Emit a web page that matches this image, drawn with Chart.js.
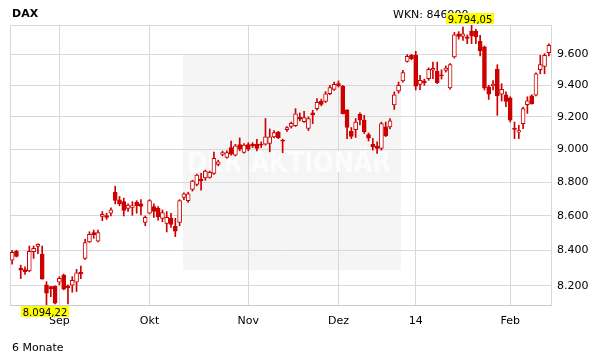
<!DOCTYPE html>
<html lang="de">
<head>
<meta charset="UTF-8">
<title>DAX 6 Monate</title>
<script src="https://cdn.jsdelivr.net/npm/chart.js"></script>
<style>
  html, body { margin: 0; padding: 0; background: #fff; }
</style>
</head>
<body>
<canvas id="daxChart" width="611" height="364"></canvas>
<script>
// trading days (Xetra), 16.08.2013 - 14.02.2014
const days = [
  '2013-08-16','2013-08-19','2013-08-20','2013-08-21','2013-08-22','2013-08-23','2013-08-26','2013-08-27','2013-08-28','2013-08-29','2013-08-30',
  '2013-09-02','2013-09-03','2013-09-04','2013-09-05','2013-09-06','2013-09-09','2013-09-10','2013-09-11','2013-09-12','2013-09-13',
  '2013-09-16','2013-09-17','2013-09-18','2013-09-19','2013-09-20','2013-09-23','2013-09-24','2013-09-25','2013-09-26','2013-09-27','2013-09-30',
  '2013-10-01','2013-10-02','2013-10-03','2013-10-04','2013-10-07','2013-10-08','2013-10-09','2013-10-10','2013-10-11','2013-10-14','2013-10-15',
  '2013-10-16','2013-10-17','2013-10-18','2013-10-21','2013-10-22','2013-10-23','2013-10-24','2013-10-25','2013-10-28','2013-10-29','2013-10-30','2013-10-31',
  '2013-11-01','2013-11-04','2013-11-05','2013-11-06','2013-11-07','2013-11-08','2013-11-11','2013-11-12','2013-11-13','2013-11-14','2013-11-15',
  '2013-11-18','2013-11-19','2013-11-20','2013-11-21','2013-11-22','2013-11-25','2013-11-26','2013-11-27','2013-11-28','2013-11-29',
  '2013-12-02','2013-12-03','2013-12-04','2013-12-05','2013-12-06','2013-12-09','2013-12-10','2013-12-11','2013-12-12','2013-12-13',
  '2013-12-16','2013-12-17','2013-12-18','2013-12-19','2013-12-20','2013-12-23','2013-12-27','2013-12-30',
  '2014-01-02','2014-01-03','2014-01-06','2014-01-07','2014-01-08','2014-01-09','2014-01-10','2014-01-13','2014-01-14','2014-01-15','2014-01-16',
  '2014-01-17','2014-01-20','2014-01-21','2014-01-22','2014-01-23','2014-01-24','2014-01-27','2014-01-28','2014-01-29','2014-01-30','2014-01-31',
  '2014-02-03','2014-02-04','2014-02-05','2014-02-06','2014-02-07','2014-02-10','2014-02-11','2014-02-12','2014-02-13','2014-02-14'
];

const openV = [
  8345,8395,8300,8292,8284,8393,8424,8380,8206,8196,8198,
  8221,8261,8200,8204,8221,8276,8355,8450,8504,8454,
  8598,8602,8616,8739,8695,8684,8644,8650,8680,8672,8562,
  8616,8655,8646,8586,8556,8586,8540,8562,8710,8690,8757,
  8787,8818,8826,8829,8853,8907,8968,8950,9010,8964,9029,8980,
  9029,9031,9031,9031,9031,9035,9076,9105,9056,9120,9140,
  9146,9198,9170,9128,9225,9252,9298,9298,9346,9373,
  9411,9394,9245,9110,9121,9216,9180,9090,9030,9018,
  9004,9138,9138,9276,9365,9428,9555,9594,
  9594,9406,9428,9443,9497,9490,9468,9496,9383,9583,9735,
  9718,9715,9754,9754,9686,9650,9390,9396,9503,9343,9340,
  9320,9130,9105,9158,9277,9333,9337,9500,9522,9611
];
const highV = [
  8401,8401,8317,8307,8426,8426,8438,8426,8224,8198,8200,
  8252,8267,8206,8252,8293,8311,8466,8508,8518,8518,
  8626,8616,8648,8776,8715,8705,8672,8684,8690,8696,8600,
  8696,8672,8655,8636,8626,8616,8586,8696,8736,8740,8812,
  8849,8853,8873,8867,8983,8933,8988,8990,9050,9030,9070,9035,
  9040,9040,9060,9045,9190,9125,9115,9110,9062,9140,9168,
  9252,9225,9235,9200,9242,9315,9312,9360,9400,9421,
  9428,9400,9245,9134,9190,9225,9210,9100,9066,9045,
  9168,9168,9190,9358,9421,9497,9598,9600,
  9620,9464,9440,9512,9550,9550,9500,9525,9540,9745,9750,
  9780,9728,9794.05,9765,9725,9655,9400,9430,9533,9410,9358,
  9327,9168,9148,9262,9327,9340,9480,9594,9605,9670
];
const lowV = [
  8323,8363,8241,8264,8279,8355,8382,8238,8094.22,8140,8100,
  8206,8178,8100,8165,8169,8241,8349,8446,8470,8450,
  8572,8580,8600,8671,8660,8600,8626,8604,8616,8606,8543,
  8612,8592,8576,8566,8507,8533,8480,8543,8696,8680,8747,
  8778,8753,8812,8824,8846,8899,8959,8945,8964,8958,8990,8975,
  8990,9010,8990,9010,9025,8984,9070,9065,8978,9110,9130,
  9140,9175,9165,9115,9158,9242,9270,9290,9340,9368,
  9389,9218,9065,9065,9072,9150,9097,9050,8994,8974,
  8994,9077,9125,9247,9350,9420,9550,9565,
  9370,9372,9400,9432,9443,9411,9440,9485,9375,9576,9700,
  9692,9670,9670,9670,9590,9370,9310,9370,9210,9300,9265,
  9168,9065,9065,9127,9222,9280,9333,9474,9474,9590
];
const closeV = [
  8390,8367,8289,8279,8395,8412,8436,8238,8160,8185,8104,
  8243,8182,8190,8232,8274,8268,8446,8493,8491,8504,
  8610,8592,8636,8691,8671,8632,8664,8660,8660,8656,8592,
  8690,8626,8596,8620,8592,8550,8512,8690,8730,8730,8806,
  8843,8808,8867,8859,8944,8923,8980,8980,8970,9020,9000,9025,
  9000,9020,9004,9025,9076,9076,9103,9071,9050,9134,9160,
  9220,9186,9196,9190,9212,9292,9278,9346,9385,9406,
  9396,9220,9135,9078,9168,9183,9108,9068,9014,9004,
  9158,9083,9175,9340,9400,9482,9587,9572,
  9394,9432,9415,9503,9510,9417,9460,9511,9533,9728,9718,
  9735,9705,9722,9715,9622,9383,9343,9408,9333,9375,9298,
  9180,9122,9115,9252,9302,9284,9474,9533,9594,9659
];

const yTicks = [8200, 8400, 8600, 8800, 9000, 9200, 9400, 9600];
const monthLabels = ['Sep', 'Okt', 'Nov', 'Dez', '14', 'Feb'];

const red = '#cc0000';
const fontFam = '"DejaVu Sans", Verdana, sans-serif';

// first trading day of each month -> x tick positions
const monthStarts = [];
days.forEach((d, i) => {
  if (i > 0 && d.slice(5, 7) !== days[i - 1].slice(5, 7)) monthStarts.push(i);
});

const yMin = Math.min(...lowV);
const yMax = Math.max(...highV);

function fmtDE(v, dec) {
  const parts = v.toFixed(dec).split('.');
  const intPart = parts[0].replace(/\B(?=(\d{3})+(?!\d))/g, '.');
  return parts[1] ? intPart + ',' + parts[1] : intPart;
}

const wickData = days.map((d, i) => ({ x: i, y: [lowV[i], highV[i]] }));
const bodyData = days.map((d, i) => ({ x: i, y: [Math.min(openV[i], closeV[i]), Math.max(openV[i], closeV[i])] }));

// watermark box + titles
const decor = {
  id: 'decor',
  beforeDraw(chart) {
    const ctx = chart.ctx;
    ctx.save();
    ctx.fillStyle = '#fff';
    ctx.fillRect(0, 0, chart.width, chart.height);
    ctx.fillStyle = '#f5f5f5';
    ctx.fillRect(183, 54, 218, 216);
    ctx.restore();
  },
  beforeDatasetsDraw(chart) {
    const ctx = chart.ctx;
    ctx.save();
    ctx.font = 'bold 29px ' + fontFam;
    const txt = 'DER AKTIONÄR';
    const w = ctx.measureText(txt).width;
    ctx.translate(187, 172);
    ctx.scale(204 / w, 1);
    ctx.fillStyle = '#fcfcfc';
    ctx.textBaseline = 'alphabetic';
    ctx.fillText(txt, 0, 0);
    ctx.restore();
  },
  afterDraw(chart) {
    const ctx = chart.ctx;
    const xs = chart.scales.x;
    ctx.save();
    ctx.fillStyle = '#000';
    ctx.textBaseline = 'alphabetic';
    ctx.textAlign = 'left';
    ctx.font = 'bold 11px ' + fontFam;
    ctx.fillText('DAX', 12, 17);
    ctx.font = '11px ' + fontFam;
    ctx.fillText('WKN: 846900', 393, 18);
    ctx.fillText('6 Monate', 12, 351);

    // high / low markers
    ctx.font = '10px ' + fontFam;
    ctx.textAlign = 'center';
    const hi = highV.indexOf(yMax);
    const lo = lowV.indexOf(yMin);
    [[hi, fmtDE(yMax, 2), 13, 23], [lo, fmtDE(yMin, 2), 306, 316]].forEach(([idx, t, top, base]) => {
      const cx = xs.getPixelForValue(idx) - 1.5;
      const w = ctx.measureText(t).width + 3;
      ctx.fillStyle = '#ffff00';
      ctx.fillRect(Math.round(cx - w / 2), top, Math.round(w), 11);
      ctx.fillStyle = '#000';
      ctx.fillText(t, cx, base);
    });
    ctx.restore();
  }
};

new Chart(document.getElementById('daxChart'), {
  type: 'bar',
  data: {
    datasets: [
      {
        label: 'Spanne',
        data: wickData,
        backgroundColor: red,
        barThickness: 1,
        grouped: false,
        order: 2
      },
      {
        label: 'Kerze',
        data: bodyData,
        backgroundColor: ctx => closeV[ctx.dataIndex] >= openV[ctx.dataIndex] ? '#ffffff' : red,
        borderColor: red,
        borderWidth: 1,
        borderSkipped: false,
        barThickness: 4,
        grouped: false,
        order: 1
      }
    ]
  },
  options: {
    responsive: false,
    animation: false,
    devicePixelRatio: 1,
    layout: { padding: { left: 10, top: 25, right: 0, bottom: 0 } },
    plugins: { legend: { display: false }, tooltip: { enabled: false } },
    scales: {
      x: {
        type: 'linear',
        offset: false,
        min: -0.5,
        max: days.length - 0.5,
        afterBuildTicks: s => { s.ticks = [-0.5, ...monthStarts, days.length - 0.5].map(v => ({ value: v })); },
        afterFit: s => { s.height = 59; },
        grid: { color: '#d8d8d8', drawTicks: false, offset: false },
        border: { color: '#cccccc' },
        ticks: {
          autoSkip: false,
          maxRotation: 0,
          padding: 10,
          color: '#000',
          font: { family: fontFam, size: 11 },
          callback: v => {
            const k = monthStarts.indexOf(v);
            return k >= 0 ? monthLabels[k] : '';
          }
        }
      },
      y: {
        type: 'logarithmic',
        position: 'right',
        min: yMin,
        max: yMax,
        afterBuildTicks: s => { s.ticks = [yMin, ...yTicks, yMax].map(v => ({ value: v })); },
        afterFit: s => { s.width = 60; },
        grid: { color: '#d8d8d8', drawTicks: false },
        border: { color: '#d8d8d8' },
        ticks: {
          padding: 6,
          color: '#000',
          font: { family: fontFam, size: 11 },
          callback: v => yTicks.includes(v) ? fmtDE(v, 0) : ''
        }
      }
    }
  },
  plugins: [decor]
});
</script>
</body>
</html>
